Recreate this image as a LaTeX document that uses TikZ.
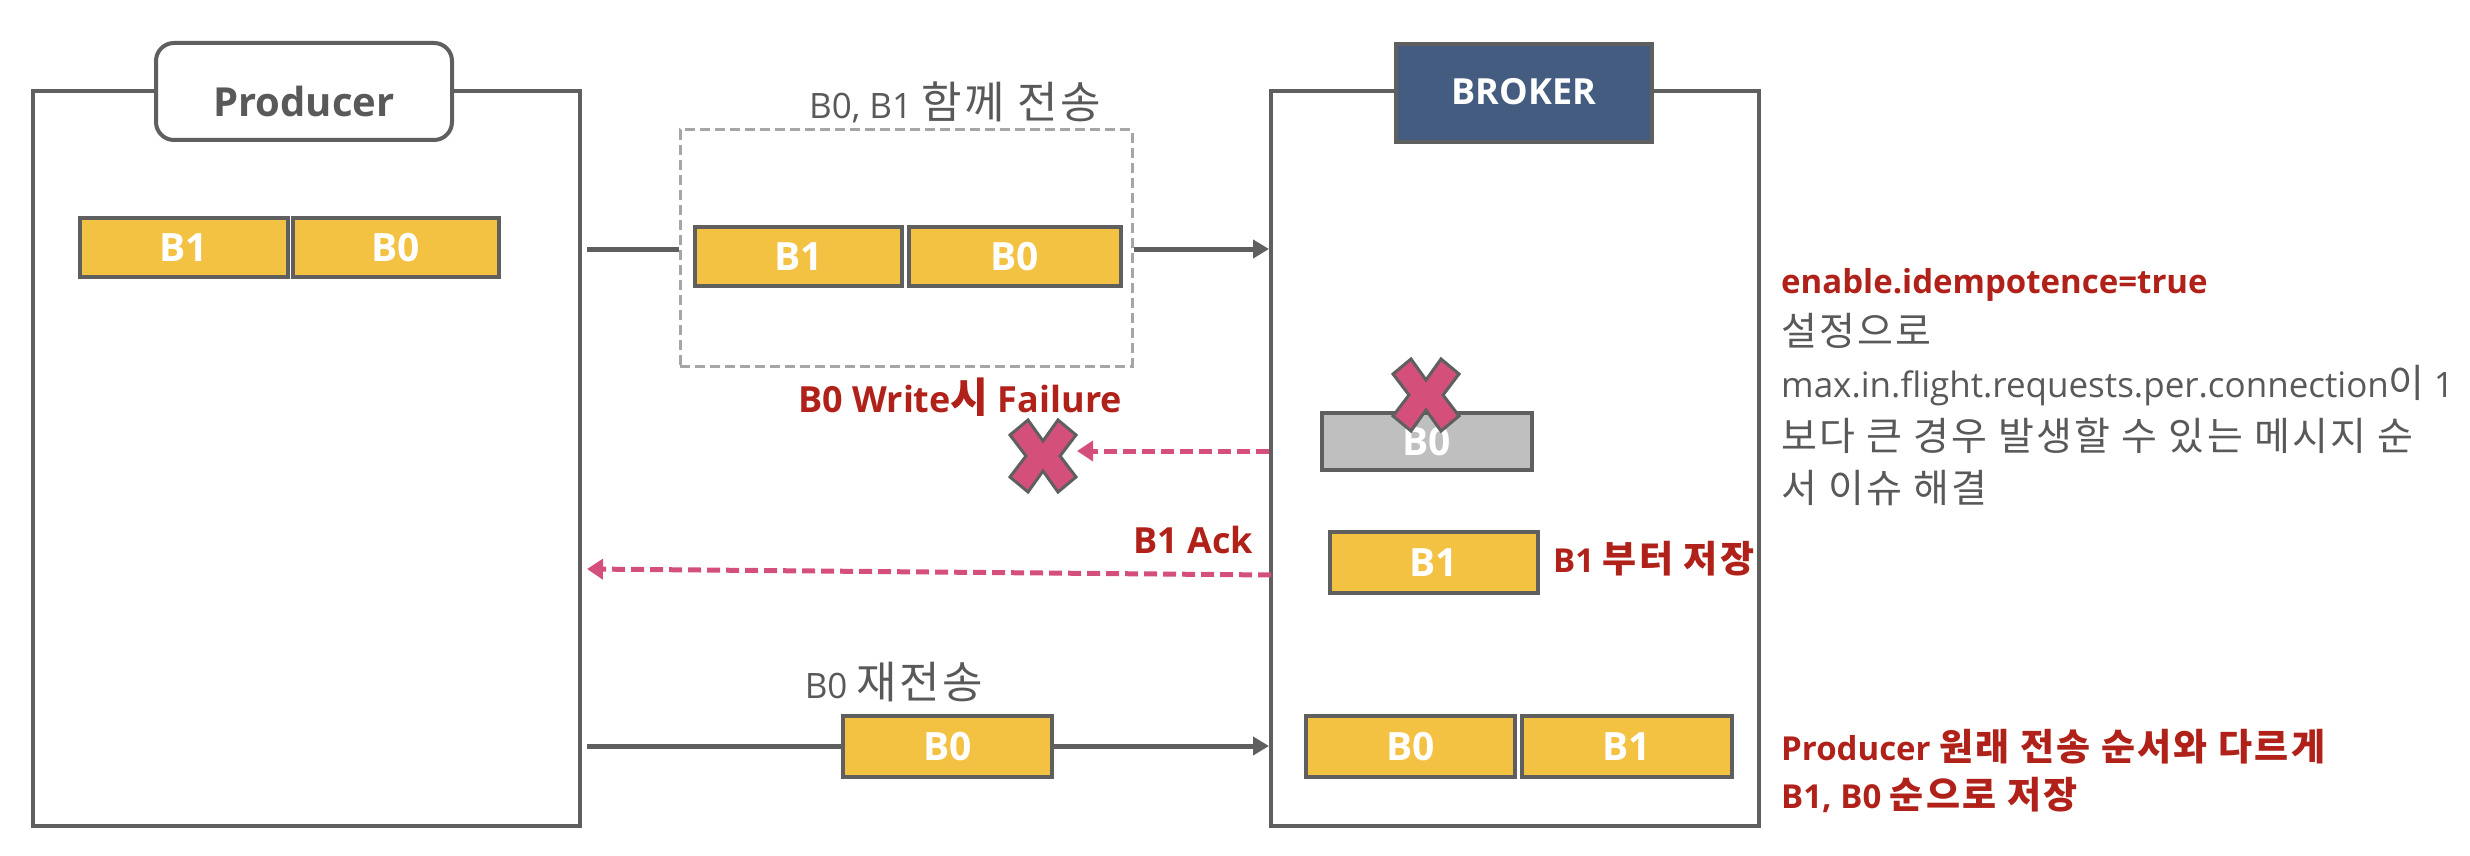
\documentclass[tikz,border=0pt]{standalone}
\usepackage{fontspec}
\setmainfont{Open Sans}
\newfontfamily\krf[LetterSpace=6]{Noto Sans CJK KR}
\newcommand\K[2]{{\krf\fontsize{#1}{#1}\selectfont #2}}
\usetikzlibrary{arrows.meta}
\definecolor{yel}{HTML}{F4C243}
\definecolor{bgray}{HTML}{5F5F5F}
\definecolor{tgray}{HTML}{595959}
\definecolor{pinkc}{HTML}{D4507B}
\definecolor{dred}{HTML}{B0211A}
\definecolor{bluec}{HTML}{445C80}
\definecolor{lgray}{HTML}{BFBFBF}
\definecolor{dgray}{HTML}{A6A6A6}
\newcommand\fsz[1]{\fontsize{#1}{#1}\selectfont}
\tikzset{
  outerbox/.style={draw=bgray, line width=4pt},
  blk/.style={draw=bgray, line width=4.5pt, fill=yel, inner sep=0pt, text=white, font=\fsz{39}\bfseries},
  gblk/.style={blk, fill=lgray},
  conn/.style={draw=bgray, line width=5pt},
  connarrow/.style={conn, -{Triangle[length=16pt,width=18pt]}},
  ack/.style={draw=pinkc, line width=5pt, dash pattern=on 13pt off 6pt, -{Triangle[length=16pt,width=20pt]}},
  lbl/.style={inner sep=0pt, anchor=base, text=tgray, font=\fsz{35}},
  redlbl/.style={inner sep=0pt, anchor=base, text=dred, font=\fsz{36}\bfseries},
  rtext/.style={inner sep=0pt, anchor=base west, text=tgray, font=\fsz{35}},
  rred/.style={inner sep=0pt, anchor=base west, text=dred, font=\fsz{33}\bfseries},
  xmark/.pic={\draw[fill=pinkc, draw=bgray, line width=3pt, line join=miter]
     (-33,-21) -- (-15,-36) -- (0,-15) -- (15,-36) -- (33,-21) -- (17,0) -- (33,21) -- (15,36) -- (0,15) -- (-15,36) -- (-33,21) -- (-17,0) -- cycle;}
}
\begin{document}
\begin{tikzpicture}[x=1pt,y=-1pt]
\useasboundingbox (0,0) rectangle (2470,856);
% Producer
\node[outerbox, minimum width=547pt, minimum height=735pt, inner sep=0pt] (pbox) at (306.5,458.5) {};
\node[draw=bgray, line width=4pt, fill=white, rounded corners=18pt, minimum width=296pt, minimum height=97pt, inner sep=0pt] (plabel) at (304,91.5) {};
\node[lbl, font=\fsz{40}\bfseries] (ptext) at (304,117) {Producer};
\node[blk, minimum width=208pt, minimum height=59pt] (pb1) at (184,247.5) {B1};
\node[blk, minimum width=206pt, minimum height=59pt] (pb0) at (396,247.5) {B0};
% Broker
\node[outerbox, minimum width=488pt, minimum height=735pt, inner sep=0pt] (bbox) at (1515,458.5) {};
\node[draw=bgray, line width=4.5pt, fill=bluec, minimum width=256pt, minimum height=98pt, inner sep=0pt] (blabel) at (1524,93) {};
\node[lbl, text=white, font=\fsz{36}\bfseries] (btext) at (1524,105) {BROKER};
% dashed transfer box
\node[draw=dgray, line width=3pt, dash pattern=on 10pt off 5pt, minimum width=452pt, minimum height=236pt, inner sep=0pt] (dbox) at (906,248) {};
\node[blk, minimum width=207pt, minimum height=59pt] (db1) at (798.5,256.5) {B1};
\node[blk, minimum width=212pt, minimum height=59pt] (db0) at (1015,256.5) {B0};
\node[lbl] (t1) at (955,119) {B0, B1 \K{44}{함께 전송}};
\coordinate (s1) at (587,249);
\draw[conn] (s1) -- (dbox.west |- s1);
\draw[connarrow] (dbox.east |- s1) -- (bbox.west |- s1);
% failure
\node[redlbl] (t2) at (960,412) {B0 Write\K{41}{시} Failure};
\coordinate (x1) at (1043,456);
\coordinate (a1e) at (1077,451);
\draw[ack] (bbox.west |- a1e) -- (a1e);
\pic at (x1) {xmark};
% broker gray B0
\node[gblk, minimum width=210pt, minimum height=57pt] (gb0) at (1427,441.5) {B0};
\pic at (1426,395) {xmark};
% B1 ack
\node[redlbl] (t3) at (1193,553) {B1 Ack};
\coordinate (a2s) at (1271,575);
\coordinate (a2e) at (587,569);
\draw[ack] (a2s) -- (a2e);
\node[blk, minimum width=208pt, minimum height=61pt] (bb1) at (1434,562.5) {B1};
\node[rred] (t4) at (1553,572) {B1 \K{37}{부터 저장}};
% resend
\node[lbl] (t5) at (894,698) {B0 \K{44}{재전송}};
\node[blk, minimum width=209pt, minimum height=61pt] (rb0) at (947.5,746.5) {B0};
\coordinate (s2) at (587,746);
\draw[conn] (s2) -- (rb0.west |- s2);
\draw[connarrow] (rb0.east |- s2) -- (bbox.west |- s2);
\node[blk, minimum width=209pt, minimum height=61pt] (fb0) at (1410.5,746.5) {B0};
\node[blk, minimum width=210pt, minimum height=61pt] (fb1) at (1627,746.5) {B1};
% right texts
\node[rred] (r1) at (1781,293) {enable.idempotence=true};
\node[rtext] (r2) at (1781,345) {\K{39}{설정으로}};
\node[rtext] (r3) at (1781,397) {max.in.flight.requests.per.connection\K{39}{이} 1};
\node[rtext] (r4) at (1781,450) {\K{39}{보다 큰 경우 발생할 수 있는 메시지 순}};
\node[rtext] (r5) at (1781,502) {\K{39}{서 이슈 해결}};
\node[rred] (r6) at (1781,760) {Producer \K{37}{원래 전송 순서와 다르게}};
\node[rred] (r7) at (1781,808) {B1, B0 \K{37}{순으로 저장}};
\end{tikzpicture}
\end{document}
